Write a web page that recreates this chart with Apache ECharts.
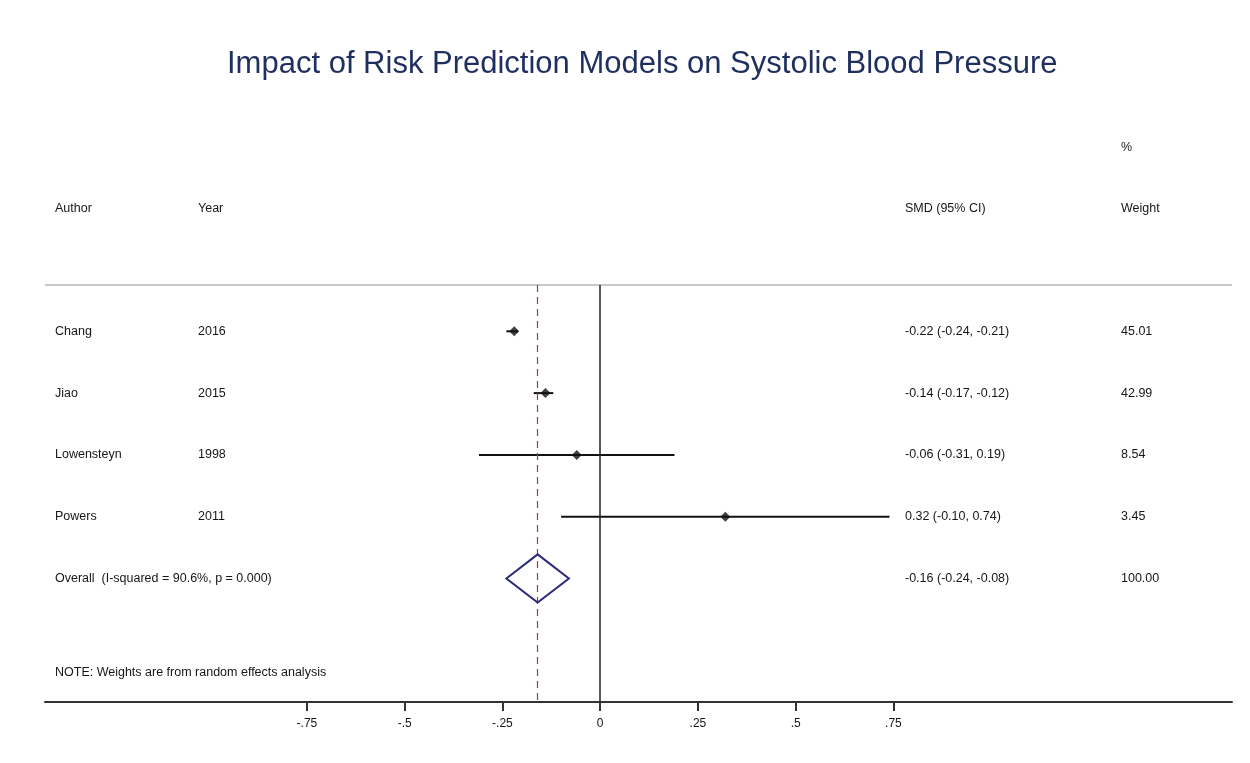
<!DOCTYPE html>
<html>
<head>
<meta charset="utf-8">
<title>Impact of Risk Prediction Models on Systolic Blood Pressure</title>
<script src="https://cdn.jsdelivr.net/npm/echarts@6/dist/echarts.min.js"></script>
<style>
  html, body { margin: 0; padding: 0; background: #fff; }
  #chart { width: 1250px; height: 763px; }
</style>
</head>
<body>
<div id="chart"></div>
<script>
// Study-level results (standardised mean difference with 95% CI)
const authors = ['Chang', 'Jiao', 'Lowensteyn', 'Powers'];
const years = ['2016', '2015', '1998', '2011'];
const smd = [-0.22, -0.14, -0.06, 0.32];
const ciLow = [-0.24, -0.17, -0.31, -0.10];
const ciHigh = [-0.21, -0.12, 0.19, 0.74];
const weights = [45.01, 42.99, 8.54, 3.45];

// Pooled (random effects) estimate
const overallLabel = 'Overall  (I-squared = 90.6%, p = 0.000)';
const overallSmd = -0.16;
const overallLow = -0.24;
const overallHigh = -0.08;
const overallWeight = 100.00;

const tickValues = [-0.75, -0.5, -0.25, 0, 0.25, 0.5, 0.75];

const FONT = '"Liberation Sans", Arial, Helvetica, sans-serif';
const TXT = '#161616';
const COL = { author: 55, year: 198, effect: 905, weight: 1121 };

function fmt(v) { return v.toFixed(2); }
function stataTick(v) {
  if (v === 0) return '0';
  return String(v).replace(/^(-?)0\./, '$1.');
}

const studyRows = authors.map((a, i) => [i, smd[i], ciLow[i], ciHigh[i]]);
const overallRow = authors.length;
const noteRow = 5.52;

const chart = echarts.init(document.getElementById('chart'), null, { renderer: 'canvas' });

function textEl(x, y, str) {
  return {
    type: 'text',
    x: x, y: y,
    style: { text: str, fill: TXT, font: '12.5px ' + FONT, textVerticalAlign: 'middle', textAlign: 'left' }
  };
}

const option = {
  backgroundColor: '#fff',
  animation: false,
  title: {
    text: 'Impact of Risk Prediction Models on Systolic Blood Pressure',
    left: 222,
    top: 44,
    textStyle: { fontFamily: FONT, fontSize: 31, fontWeight: 'normal', color: '#1f2f5f' }
  },
  grid: { left: 45, right: 18, top: 285, bottom: 61 },
  xAxis: {
    type: 'value',
    min: -1.42,
    max: 1.616,
    axisLine: { show: true, onZero: false, lineStyle: { color: '#333', width: 2 } },
    axisTick: { show: true, customValues: tickValues, length: 9, lineStyle: { color: '#333', width: 2 } },
    axisLabel: {
      customValues: tickValues,
      formatter: v => stataTick(v),
      fontFamily: FONT, fontSize: 12, color: TXT, margin: 16
    },
    splitLine: { show: false }
  },
  yAxis: {
    type: 'value',
    inverse: true,
    min: -0.75,
    max: 6,
    show: false
  },
  graphic: [
    { type: 'line', shape: { x1: 45, y1: 285, x2: 1232, y2: 285 }, style: { stroke: '#c8c8c8', lineWidth: 2 } },
    textEl(COL.weight, 148, '%'),
    textEl(COL.author, 209, 'Author'),
    textEl(COL.year, 209, 'Year'),
    textEl(COL.effect, 209, 'SMD (95% CI)'),
    textEl(COL.weight, 209, 'Weight')
  ],
  series: [
    {
      // Reference lines: no effect and pooled estimate
      type: 'scatter',
      data: [],
      markLine: {
        silent: true,
        symbol: 'none',
        label: { show: false },
        data: [
          { xAxis: 0, lineStyle: { color: '#222', width: 1.5, type: 'solid' } },
          { xAxis: overallSmd, lineStyle: { color: '#a83a48', width: 1.2, type: [7, 5] } }
        ]
      }
    },
    {
      // Confidence intervals
      type: 'custom',
      data: studyRows,
      renderItem: function (params, api) {
        const y = api.value(0);
        const p1 = api.coord([api.value(2), y]);
        const p2 = api.coord([api.value(3), y]);
        return {
          type: 'line',
          shape: { x1: p1[0], y1: p1[1], x2: p2[0], y2: p2[1] },
          style: { stroke: '#111', lineWidth: 2 }
        };
      },
      encode: { x: [2, 3], y: 0 },
      z: 3
    },
    {
      // Point estimates
      type: 'scatter',
      data: studyRows.map(r => [r[1], r[0]]),
      symbol: 'diamond',
      symbolSize: [10, 10],
      itemStyle: { color: '#111' },
      z: 4
    },
    {
      // Pooled estimate diamond
      type: 'custom',
      data: [[overallRow, overallSmd, overallLow, overallHigh]],
      renderItem: function (params, api) {
        const y = api.value(0);
        const h = 0.39;
        const pts = [
          api.coord([api.value(2), y]),
          api.coord([api.value(1), y - h]),
          api.coord([api.value(3), y]),
          api.coord([api.value(1), y + h])
        ];
        return {
          type: 'polygon',
          shape: { points: pts },
          style: { fill: 'none', stroke: '#2b2a78', lineWidth: 2 }
        };
      },
      encode: { x: [2, 3], y: 0 },
      z: 5
    },
    {
      // Table columns: author, year, effect (95% CI), weight
      type: 'custom',
      data: authors.map((a, i) => [i]).concat([[overallRow], [noteRow]]),
      renderItem: function (params, api) {
        const i = params.dataIndex;
        const y = api.coord([0, api.value(0)])[1];
        const kids = [];
        if (i < authors.length) {
          kids.push(textEl(COL.author, y, authors[i]));
          kids.push(textEl(COL.year, y, years[i]));
          kids.push(textEl(COL.effect, y, fmt(smd[i]) + ' (' + fmt(ciLow[i]) + ', ' + fmt(ciHigh[i]) + ')'));
          kids.push(textEl(COL.weight, y, fmt(weights[i])));
        } else if (i === authors.length) {
          kids.push(textEl(COL.author, y, overallLabel));
          kids.push(textEl(COL.effect, y, fmt(overallSmd) + ' (' + fmt(overallLow) + ', ' + fmt(overallHigh) + ')'));
          kids.push(textEl(COL.weight, y, fmt(overallWeight)));
        } else {
          kids.push(textEl(COL.author, y, 'NOTE: Weights are from random effects analysis'));
        }
        return { type: 'group', children: kids };
      },
      encode: { y: 0 },
      clip: false,
      z: 6
    }
  ]
};

chart.setOption(option);
</script>
</body>
</html>
